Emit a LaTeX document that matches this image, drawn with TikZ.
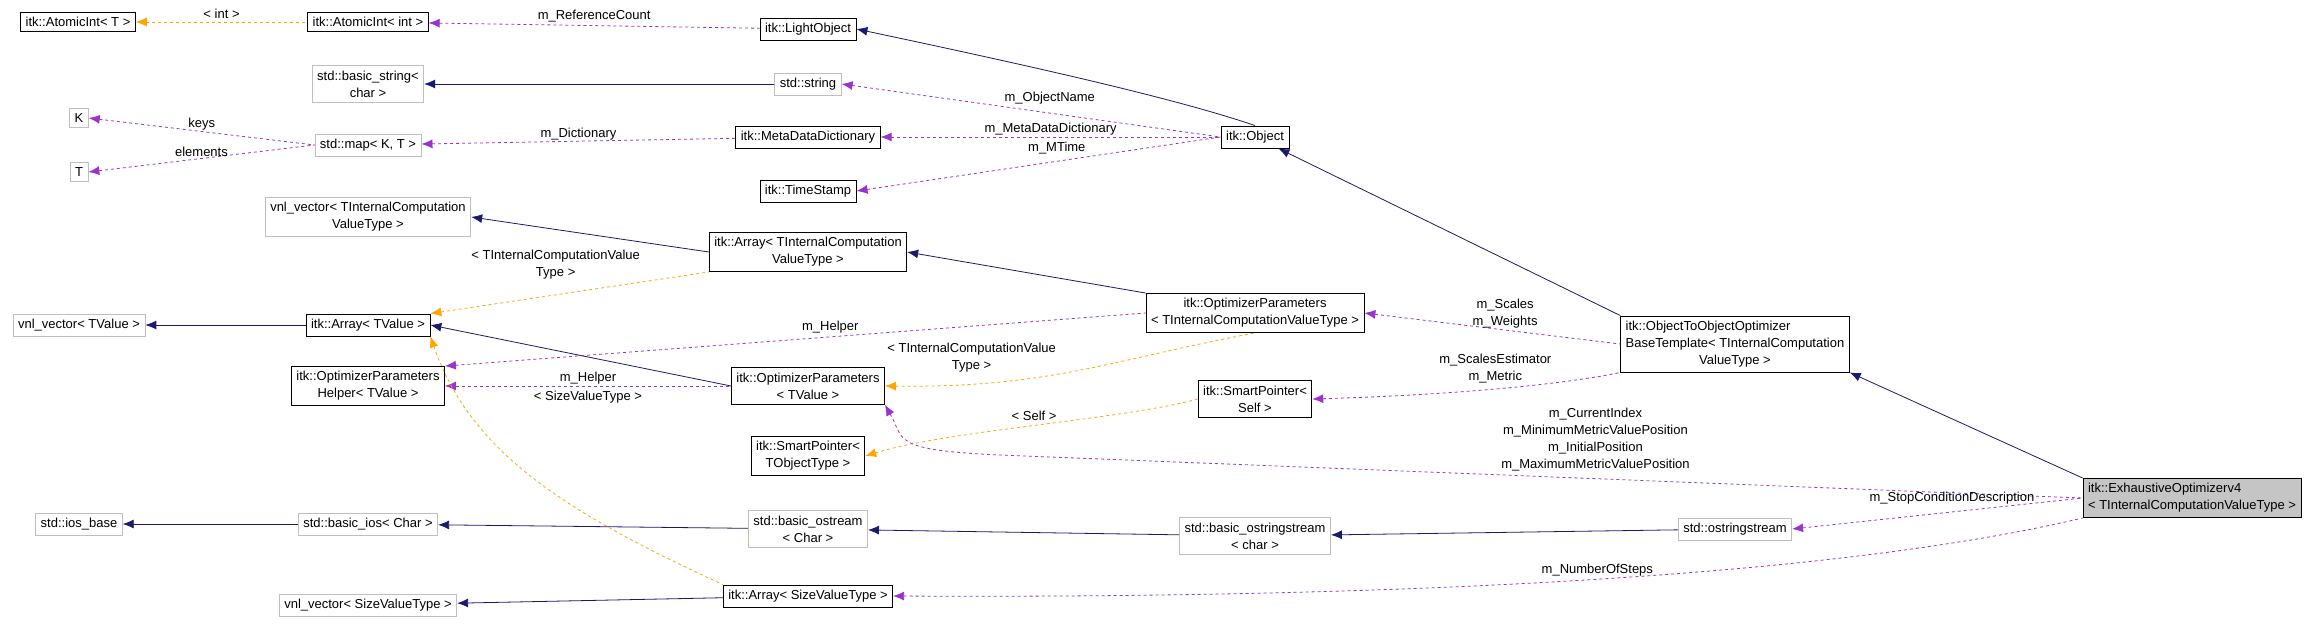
\documentclass[tikz,border=0pt]{standalone}
\usepackage{fontspec}
\setmainfont{Liberation Sans}
\usetikzlibrary{arrows, arrows.meta, positioning}
\definecolor{inh}{HTML}{191970}
\definecolor{use}{HTML}{9A32CD}
\definecolor{tpl}{HTML}{FFA500}
\definecolor{grey}{HTML}{BFBFBF}
\begin{document}
\begin{tikzpicture}[x=1pt, y=-1pt, >={Latex[length=11pt,width=9pt]}, font=\fontsize{13}{17}\selectfont]
    \tikzstyle{cls} = [draw, thick, text centered, align=center, inner sep=5pt, fill=white]
    \tikzstyle{ext} = [cls, draw=grey]
    \tikzstyle{lbl} = [align=center, inner sep=1pt, text=black]
    \tikzstyle{base} = [<-, inh, thick]
    \tikzstyle{uses} = [<-, use, thick, dashed]
    \tikzstyle{inst} = [<-, tpl, thick, dashed]
    \useasboundingbox (0,0) rectangle (2315,625);
    % left column
    \node [cls] at (78,22) (atomt) {itk::AtomicInt< T >};
    \node [ext] at (79,118) (kk) {K};
    \node [ext] at (79,172) (tt) {T};
    \node [ext] at (79,325) (vnltv) {vnl\_vector< TValue >};
    \node [cls] at (368,386) (helper) {itk::OptimizerParameters\\Helper< TValue >};
    \node [ext] at (79,524) (iosbase) {std::ios\_base};
    % second column
    \node [cls] at (368,22) (atomint) {itk::AtomicInt< int >};
    \node [ext] at (368,84) (bstring) {std::basic\_string<\\char >};
    \node [ext] at (368,145) (map) {std::map< K, T >};
    \node [ext] at (368,217) (vnlti) {vnl\_vector< TInternalComputation\\ValueType >};
    \node [cls] at (368,325) (arraytv) {itk::Array< TValue >};
    \node [ext] at (368,524) (bios) {std::basic\_ios< Char >};
    \node [ext] at (368,605) (vnlsz) {vnl\_vector< SizeValueType >};
    % third column
    \node [cls] at (808,29) (light) {itk::LightObject};
    \node [ext] at (808,84) (string) {std::string};
    \node [cls] at (808,137) (meta) {itk::MetaDataDictionary};
    \node [cls] at (808,191) (stamp) {itk::TimeStamp};
    \node [cls] at (808,252) (arrayti) {itk::Array< TInternalComputation\\ValueType >};
    \node [cls] at (808,386) (optv) {itk::OptimizerParameters\\< TValue >};
    \node [cls] at (808,456) (sptr) {itk::SmartPointer<\\TObjectType >};
    \node [ext] at (808,529) (bostream) {std::basic\_ostream\\< Char >};
    \node [cls] at (808,596) (arraysz) {itk::Array< SizeValueType >};
    % fourth column
    \node [cls] at (1255,137) (object) {itk::Object};
    \node [cls] at (1255,313) (optti) {itk::OptimizerParameters\\< TInternalComputationValueType >};
    \node [cls] at (1255,399) (sptrself) {itk::SmartPointer<\\Self >};
    \node [ext] at (1255,536) (bosstream) {std::basic\_ostringstream\\< char >};
    % right
    \node [cls, align=left] at (1735,344) (o2o) {itk::ObjectToObjectOptimizer\\BaseTemplate< TInternalComputation\\\hfill ValueType >\hfill\null};
    \node [ext] at (1735,529) (osstream) {std::ostringstream};
    \node [cls, fill=grey!90, align=left] at (2192,498) (exh) {itk::ExhaustiveOptimizerv4\\< TInternalComputationValueType >};

    \draw[inst] (atomt) -- node[lbl, above=2pt] {< int >} (atomint);
    \draw[uses] (atomint) -- node[lbl, above=2pt] {m\_ReferenceCount} (light);
    \draw[base] (light.east) .. controls (1050,70) and (1180,100) .. (object.north);
    \draw[base] (bstring) -- (string);
    \draw[uses] (string.east) -- node[lbl, above right=0pt and 10pt, pos=0.4] {m\_ObjectName} (object.west);
    \draw[uses] (meta) -- node[lbl, above] {m\_MetaDataDictionary} (object);
    \draw[uses] (stamp.east) -- node[lbl, above=6pt, pos=0.55] {m\_MTime} (object.west);
    \draw[uses] (map) -- node[lbl, above] {m\_Dictionary} (meta);
    \draw[uses] (kk.east) -- node[lbl, above] {keys} (map.west);
    \draw[uses] (tt.east) -- node[lbl, above] {elements} (map.west);
    \draw[base] (vnlti.east) -- (arrayti.west);
    \draw[base] (arrayti.east) -- (optti.north west);
    \draw[inst] (arraytv.north east) -- node[lbl, above=14pt, pos=0.45] {< TInternalComputationValue\\Type >} (arrayti.south west);
    \draw[base] (vnltv) -- (arraytv);
    \draw[base] (arraytv.east) -- (optv.west);
    \draw[uses] (helper.north east) -- node[lbl, above=2pt, pos=0.55] {m\_Helper} (optti.west);
    \draw[uses] (helper) -- node[lbl, above] {m\_Helper} node[lbl, below=4pt] {< SizeValueType >} (optv);
    \draw[inst] (optv.east) .. controls (1050,388) and (1110,360) .. node[lbl, above left=0pt and 4pt, pos=0.45] {< TInternalComputationValue\\Type >} (optti.south);
    \draw[inst] (sptr.east) .. controls (950,430) and (1120,420) .. node[lbl, above=4pt, pos=0.5] {< Self >} (sptrself.west);
    \draw[inst] (arraytv.south east) .. controls (470,450) and (560,510) .. (arraysz.north west);
    \draw[base] (object) -- (o2o.north west);
    \draw[uses] (optti.east) -- node[lbl, above, pos=0.55] {m\_Scales\\m\_Weights} (o2o.west);
    \draw[uses] (sptrself.east) .. controls (1450,395) and (1560,385) .. node[lbl, above=4pt, pos=0.5] {m\_ScalesEstimator\\m\_Metric} (o2o.south west);
    \draw[base] (o2o.south east) -- (exh.north west);
    \draw[uses] (optv.south east) .. controls (905,440) and (890,450) .. (1000,455) -- node[lbl, above=6pt, pos=0.55] {m\_CurrentIndex\\m\_MinimumMetricValuePosition\\m\_InitialPosition\\m\_MaximumMetricValuePosition} (exh.west);
    \draw[base] (iosbase) -- (bios);
    \draw[base] (bios) -- (bostream);
    \draw[base] (bostream) -- (bosstream);
    \draw[base] (bosstream) -- (osstream);
    \draw[uses] (osstream.east) -- node[lbl, above=6pt, pos=0.55] {m\_StopConditionDescription} (exh.west);
    \draw[base] (vnlsz) -- (arraysz);
    \draw[uses] (arraysz.east) .. controls (1300,598) and (1800,585) .. node[lbl, above=2pt, pos=0.55] {m\_NumberOfSteps} (exh.south west);
\end{tikzpicture}
\end{document}
